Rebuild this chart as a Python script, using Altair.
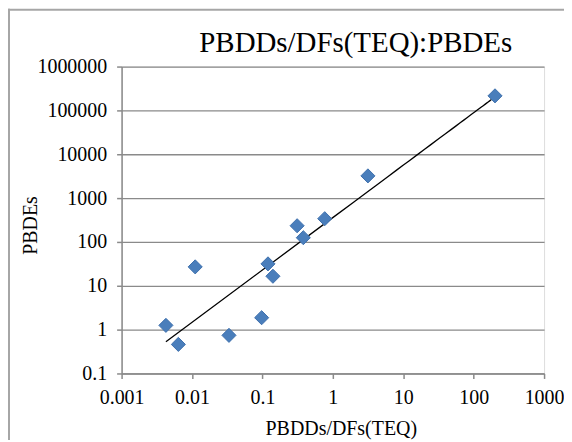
import altair as alt
import pandas as pd

# Data (log-log scatter)
teq = [0.00426, 0.0064, 0.0111, 0.0335, 0.0975, 0.120, 0.141, 0.311, 0.381, 0.767, 3.15, 201]
pbdes = [1.25, 0.46, 27, 0.74, 1.87, 31.6, 16.5, 234, 125, 339, 3210, 215000]

x_ticks = [0.001, 0.01, 0.1, 1, 10, 100, 1000]
y_ticks = [0.1, 1, 10, 100, 1000, 10000, 100000, 1000000]

df = pd.DataFrame({"x": teq, "y": pbdes})

FONT = "Liberation Serif"
GRAY = "#8a8a8a"

xscale = alt.Scale(type="log", domain=[0.001, 1000], nice=False)
yscale = alt.Scale(type="log", domain=[0.1, 1000000], nice=False)

xaxis = alt.Axis(
    values=x_ticks, format="~f", grid=False,
    domainColor=GRAY, domainWidth=1.5, tickColor=GRAY, tickWidth=1.5, tickSize=5,
    labelFont=FONT, labelFontSize=20, labelColor="black", labelPadding=9,
    labelFlush=False, labelOverlap=False,
    title="PBDDs/DFs(TEQ)", titleFont=FONT, titleFontSize=20, titleFontWeight="normal",
    titleColor="black", titleX=220, titleY=61, titleBaseline="alphabetic", titleAlign="center",
)
yaxis = alt.Axis(
    values=y_ticks, format="~f", grid=True, gridColor=GRAY, gridWidth=1.3,
    domainColor=GRAY, domainWidth=1.5, tickColor=GRAY, tickWidth=1.5, tickSize=5,
    labelFont=FONT, labelFontSize=20, labelColor="black", labelPadding=10,
    labelFlush=False, labelOverlap=False,
    title="PBDEs", titleFont=FONT, titleFontSize=20, titleFontWeight="normal",
    titleColor="black", titleX=-85, titleY=159, titleAngle=270,
    titleBaseline="alphabetic", titleAlign="center",
)

base = alt.Chart(df)

points = base.mark_point(
    shape="diamond", filled=True, size=200, fill="#4a7ebb", stroke="#3f70ad",
    strokeWidth=1, opacity=1
).encode(
    x=alt.X("x:Q", scale=xscale, axis=xaxis),
    y=alt.Y("y:Q", scale=yscale, axis=yaxis),
)

trend = base.transform_regression("x", "y", method="pow").mark_line(
    color="black", strokeWidth=1.3
).encode(
    x=alt.X("x:Q", scale=xscale),
    y=alt.Y("y:Q", scale=yscale),
)

frame_top = alt.Chart().mark_rule(color="#a6a6a6", strokeWidth=2).encode(
    x=alt.value(-114), x2=alt.value(460), y=alt.value(-57)
)
frame_left = alt.Chart().mark_rule(color="#a6a6a6", strokeWidth=2).encode(
    x=alt.value(-113), y=alt.value(-58), y2=alt.value(380)
)

chart = alt.layer(frame_top, frame_left, trend, points).properties(
    width=424, height=308,
    autosize=alt.AutoSizeParams(type="none"),
    padding={"left": 114, "top": 58, "right": 20, "bottom": 66},
    title=alt.TitleParams(
        "PBDDs/DFs(TEQ):PBDEs", font=FONT, fontSize=29, fontWeight="normal",
        color="black", anchor="middle", dx=23, dy=77, baseline="alphabetic", offset=4,
    ),
).configure_view(stroke=None).configure(background="white")

chart.save("out.html", embed_options={"renderer": "svg", "actions": False})
